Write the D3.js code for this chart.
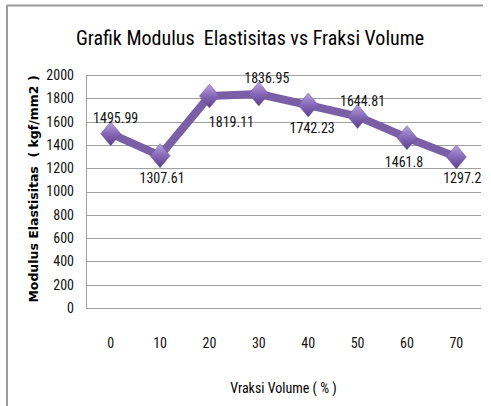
<!DOCTYPE html>
<html>
<head>
<meta charset="utf-8">
<script src="https://cdn.jsdelivr.net/npm/d3@7"></script>
<style>
  body { margin: 0; background: #fff; }
  text { font-family: "Liberation Sans Narrow", "Roboto Condensed", "Liberation Sans", sans-serif; white-space: pre; }
</style>
</head>
<body>
<svg id="chart" width="491" height="406"></svg>
<script>
var categories = ["0", "10", "20", "30", "40", "50", "60", "70"];
var values = [1495.99, 1307.61, 1819.11, 1836.95, 1742.23, 1644.81, 1461.8, 1297.2];
var yTicks = [0, 200, 400, 600, 800, 1000, 1200, 1400, 1600, 1800, 2000];

// where each data label sits relative to its marker [dx, dy]
var labelOffsets = [[5, -11], [2, 27], [22, 31], [8, -11], [4, 28], [5, -10], [-3, 29], [6, 26]];

var svg = d3.select("#chart");
var margin = {left: 86, right: 10, top: 75, bottom: 98};
var width = 491, height = 406;

// frame (only top and left visible in the crop)
svg.append("line").attr("x1", 7).attr("y1", 5.5).attr("x2", 483).attr("y2", 5.5)
    .style("stroke", "#9a9a9a").style("stroke-width", 2);
svg.append("line").attr("x1", 7).attr("y1", 5).attr("x2", 7).attr("y2", 406)
    .style("stroke", "#9a9a9a").style("stroke-width", 2);

var x = d3.scaleBand()
    .domain(categories)
    .range([margin.left, width - margin.right]);

var y = d3.scaleLinear()
    .domain([0, 2000])
    .range([height - margin.bottom, margin.top]);

// gridlines
svg.append("g")
    .selectAll("line")
    .data(yTicks)
    .enter()
    .append("line")
    .attr("x1", margin.left)
    .attr("x2", width - margin.right)
    .attr("y1", function(d) { return Math.round(y(d)) + 0.5; })
    .attr("y2", function(d) { return Math.round(y(d)) + 0.5; })
    .style("stroke", "#a0a0a0")
    .style("stroke-width", 1);

// left axis line
svg.append("line")
    .attr("x1", margin.left + 0.5).attr("x2", margin.left + 0.5)
    .attr("y1", y(2000)).attr("y2", y(0))
    .style("stroke", "#a0a0a0");

// y tick labels
svg.append("g")
    .selectAll("text")
    .data(yTicks)
    .enter()
    .append("text")
    .attr("x", 74)
    .attr("y", function(d) { return y(d); })
    .attr("dy", "0.35em")
    .attr("text-anchor", "end")
    .attr("font-size", 14)
    .attr("fill", "#111")
    .text(function(d) { return d; });

// x tick labels
svg.append("g")
    .selectAll("text")
    .data(categories)
    .enter()
    .append("text")
    .attr("x", function(d) { return x(d) + x.bandwidth() / 2; })
    .attr("y", 348)
    .attr("text-anchor", "middle")
    .attr("font-size", 14)
    .attr("fill", "#111")
    .text(function(d) { return d; });

// title
svg.append("text")
    .attr("x", 250)
    .attr("y", 45)
    .attr("text-anchor", "middle")
    .attr("font-size", 20)
    .attr("fill", "#000")
    .text("Grafik Modulus  Elastisitas vs Fraksi Volume");

// axis titles
svg.append("text")
    .attr("x", (margin.left + width - margin.right) / 2)
    .attr("y", 393)
    .attr("text-anchor", "middle")
    .attr("font-size", 14)
    .attr("fill", "#000")
    .text("Vraksi Volume ( % )");

svg.append("text")
    .attr("transform", "translate(38,189) rotate(-90)")
    .attr("text-anchor", "middle")
    .attr("font-size", 12.5)
    .attr("font-weight", "bold")
    .style("font-family", "'DejaVu Sans', sans-serif")
    .attr("fill", "#000")
    .text("Modulus Elastisitas  ( kgf/mm2 )");

// gradient for markers
var defs = svg.append("defs");
var grad = defs.append("linearGradient")
    .attr("id", "dia").attr("x1", 0).attr("y1", 0).attr("x2", 0).attr("y2", 1);
grad.append("stop").attr("offset", "0%").attr("stop-color", "#b9a2dc");
grad.append("stop").attr("offset", "50%").attr("stop-color", "#8668b8");
grad.append("stop").attr("offset", "100%").attr("stop-color", "#5e3f8c");

var pts = categories.map(function(c, i) {
    return {cat: c, v: values[i], off: labelOffsets[i]};
});

var line = d3.line()
    .x(function(d) { return x(d.cat) + x.bandwidth() / 2; })
    .y(function(d) { return y(d.v); });

svg.append("path")
    .datum(pts)
    .attr("d", line)
    .style("fill", "none")
    .style("stroke", "#7b5fa6")
    .style("stroke-width", 8)
    .style("stroke-linejoin", "round");

var diamond = "M0,-12 L10,0 L0,12 L-10,0 Z";
svg.append("g")
    .selectAll("path")
    .data(pts)
    .enter()
    .append("path")
    .attr("transform", function(d) {
        return "translate(" + (x(d.cat) + x.bandwidth() / 2) + "," + y(d.v) + ")";
    })
    .attr("d", diamond)
    .style("fill", "url(#dia)")
    .style("stroke", "#6b4f98")
    .style("stroke-width", 0.5);

// data labels
svg.append("g")
    .selectAll("text")
    .data(pts)
    .enter()
    .append("text")
    .attr("x", function(d) { return x(d.cat) + x.bandwidth() / 2 + d.off[0]; })
    .attr("y", function(d) { return y(d.v) + d.off[1]; })
    .attr("text-anchor", "middle")
    .attr("font-size", 14)
    .attr("fill", "#111")
    .text(function(d) { return d.v; });
</script>
</body>
</html>
